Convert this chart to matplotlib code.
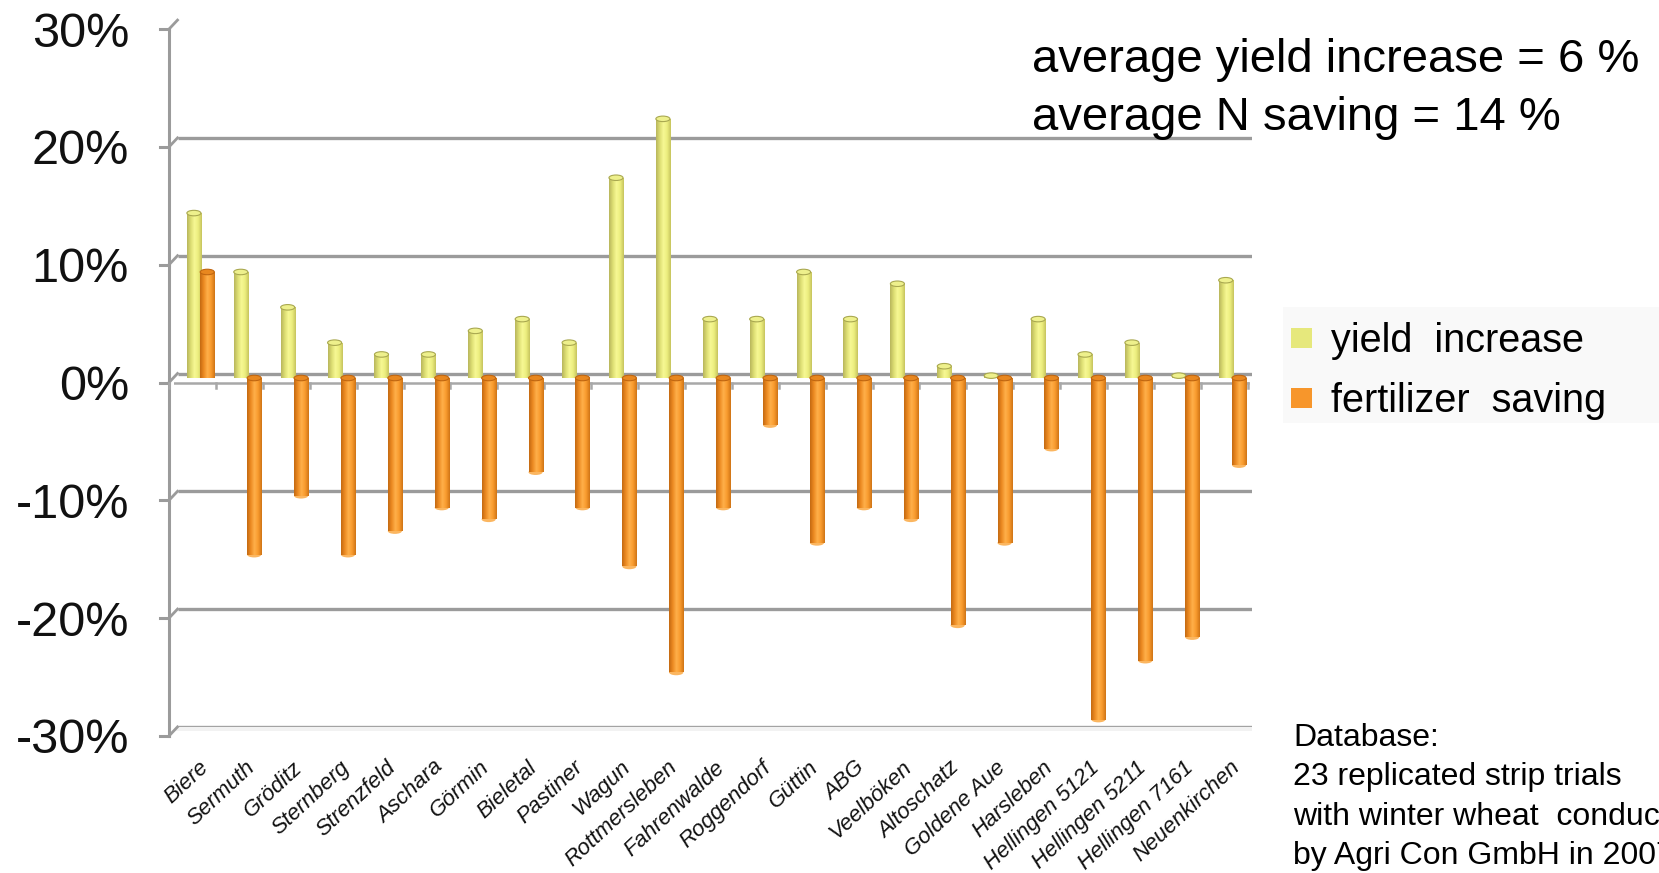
import numpy as np
import matplotlib
matplotlib.use("Agg")
import matplotlib.pyplot as plt
from matplotlib.transforms import ScaledTranslation
from matplotlib.patches import Ellipse, Rectangle, Polygon
from matplotlib.colors import LinearSegmentedColormap

plt.rcParams["font.family"] = ["Liberation Sans", "DejaVu Sans"]

# ---- data -------------------------------------------------------------
sites = ["Biere", "Sermuth", "Gröditz", "Sternberg", "Strenzfeld", "Aschara",
         "Görmin", "Bieletal", "Pastiner", "Wagun", "Rottmersleben",
         "Fahrenwalde", "Roggendorf", "Güttin", "ABG", "Veelböken",
         "Altoschatz", "Goldene Aue", "Harsleben", "Hellingen 5121",
         "Hellingen 5211", "Hellingen 7161", "Neuenkirchen"]
yield_increase = [14, 9, 6, 3, 2, 2, 4, 5, 3, 17, 22, 5, 5, 9, 5, 8, 1, 0.2,
                  5, 2, 3, 0.2, 8.3]
fertilizer_saving = [9, -15, -10, -15, -13, -11, -12, -8, -11, -16, -25, -11,
                     -4, -14, -11, -12, -21, -14, -6, -29, -24, -22, -7.4]
y_ticks = [-30, -20, -10, 0, 10, 20, 30]
series_names = ["yield  increase", "fertilizer  saving"]
summary_lines = ["average yield increase = 6 %", "average N saving = 14 %"]
note_lines = ["Database:", "23 replicated strip trials",
              "with winter wheat  conducted", "by Agri Con GmbH in 2007"]

# ---- figure / axes ----------------------------------------------------
W, H = 1659, 873
fig = plt.figure(figsize=(W / 100, H / 100), dpi=100)
fig.patch.set_facecolor("white")

ax_left, ax_bottom_px, ax_w, ax_h = 173.5, 731.4, 1078.7, 706.8
ax = fig.add_axes([ax_left / W, (H - ax_bottom_px) / H, ax_w / W, ax_h / H])
n = len(sites)
ax.set_xlim(-0.5, n - 0.5)
ax.set_ylim(-30, 30)
ax.axis("off")

sx = ax_w / n        # pixels per category
sy = ax_h / 60.0     # pixels per percent


def shifted(dx, dy):
    """transData moved by (dx, dy) pixels; dy > 0 moves downwards."""
    return ax.transData + ScaledTranslation(dx / 100, -dy / 100, fig.dpi_scale_trans)


back = shifted(4.0, -4.5)
front = shifted(-4.5, 4.5)
grid_c = "#9b9b9b"

# back-wall gridlines
x_end_back = n - 0.5 + 0.1
for t in y_ticks:
    ax.plot([-0.5, x_end_back], [t, t], transform=back, color=grid_c,
            lw=2.4, solid_capstyle="butt", zorder=1)

# floor slab at the bottom
floor = Polygon([(-0.5 - 4.5 / sx, -30 - 4.5 / sy),
                 (n - 0.5 - 4.5 / sx, -30 - 4.5 / sy),
                 (x_end_back + 4.0 / sx, -30 + 4.5 / sy),
                 (-0.5 + 4.0 / sx, -30 + 4.5 / sy)],
                closed=True, facecolor="#f2f2f2", edgecolor="none", zorder=1)
ax.add_patch(floor)
ax.plot([-0.5, n - 0.5], [-30, -30], transform=front, color="#b5b5b5",
        lw=2.2, zorder=1)
ax.plot([n - 0.5 - 4.5 / sx, x_end_back + 4.0 / sx],
        [-30 - 4.5 / sy, -30 + 4.5 / sy], color="#b5b5b5", lw=2.2, zorder=1)

# front value axis with ticks and the slanted wall connectors
ax.plot([-0.5, -0.5], [-30, 30], transform=front, color=grid_c, lw=2.2,
        zorder=2, clip_on=False)
for t in y_ticks:
    ax.plot([-0.5 - 9 / sx, -0.5], [t, t], transform=front, color=grid_c,
            lw=2.2, zorder=2, clip_on=False)
    ax.plot([-0.5 - 4.5 / sx, -0.5 + 4.0 / sx], [t - 4.5 / sy, t + 4.5 / sy],
            color=grid_c, lw=2.0, zorder=2, clip_on=False)
    ax.text(-0.5, t, f"{t}%",
            transform=front + ScaledTranslation(-0.40, -0.175, fig.dpi_scale_trans),
            ha="right", va="baseline", fontsize=35, color="#111111")

# front category axis at 0 %
ax.plot([-0.5, n - 0.5], [0, 0], transform=front, color="#a8a8a8", lw=1.8, zorder=2)
for k in range(n + 1):
    ax.plot([k - 0.5, k - 0.5], [0, -5 / sy], transform=front, color="#a8a8a8",
            lw=1.8, zorder=2, clip_on=False)

# ---- cylinder-like columns -------------------------------------------
yellow_cmap = LinearSegmentedColormap.from_list(
    "yel", ["#b8b65c", "#dcdd72", "#f7f894", "#ecee7e", "#c6c45e"])
orange_cmap = LinearSegmentedColormap.from_list(
    "org", ["#c46a12", "#ec8a22", "#ffb04a", "#f89a2d", "#cf7416"])
grad = np.linspace(0, 1, 64).reshape(1, -1)

x = np.arange(n)
bw = 0.30
bars_y = ax.bar(x - 0.065, yield_increase, width=bw, color="#ecee7c",
                edgecolor="none", zorder=3)
bars_o = ax.bar(x + 0.22, fertilizer_saving, width=bw, color="#f89a2c",
                edgecolor="none", zorder=3)

cap_h = 5.5 / sy
for bars, cmap, cap_c, cap_e, end_c in [
        (bars_y, yellow_cmap, "#eef08c", "#a9a850", "#f3f5a0"),
        (bars_o, orange_cmap, "#e8871f", "#c06610", "#fbb660")]:
    for p in bars:
        x0, w = p.get_x(), p.get_width()
        y0, h = p.get_y(), p.get_height()
        y_lo, y_hi = min(y0, y0 + h), max(y0, y0 + h)
        im = ax.imshow(grad, cmap=cmap, extent=[x0, x0 + w, y_lo, y_hi],
                       aspect="auto", zorder=3.1, interpolation="bilinear")
        im.set_clip_path(p)
        cx = x0 + w / 2
        if y_hi > 0.05:
            ax.add_patch(Ellipse((cx, y_hi), w, cap_h, facecolor=cap_c,
                                 edgecolor=cap_e, lw=0.8, zorder=3.3))
        if y_lo < -0.05:
            ax.add_patch(Ellipse((cx, 0), w, cap_h, facecolor=cap_c,
                                 edgecolor=cap_e, lw=0.8, zorder=3.3))
            ax.add_patch(Ellipse((cx, y_lo), w, cap_h, facecolor=end_c,
                                 edgecolor="none", zorder=3.05))

ax.set_xlim(-0.5, n - 0.5)
ax.set_ylim(-30, 30)

# category labels
label_y = -30 - (757 - ax_bottom_px) / sy
for i, name in enumerate(sites):
    ax.text(i + 0.03, label_y, name, rotation=43, rotation_mode="anchor",
            ha="right", va="top", fontsize=16, fontstyle="italic",
            color="#111111", clip_on=False)

# ---- annotations ------------------------------------------------------
def fx(px):
    return px / W


def fy(py):
    return 1 - py / H


fig.text(fx(1032), fy(72), summary_lines[0], fontsize=34, ha="left",
         va="baseline", color="black")
fig.text(fx(1032), fy(130), summary_lines[1], fontsize=34, ha="left",
         va="baseline", color="black")

# legend
fig.patches.append(Rectangle((fx(1283), fy(423)), fx(1659) - fx(1283),
                             fy(307) - fy(423), transform=fig.transFigure,
                             facecolor="#f9f9f9", edgecolor="none", zorder=0))
for k, (name, col) in enumerate(zip(series_names, ["#e6e87c", "#f7962b"])):
    yc = 338 + k * 60
    fig.patches.append(Rectangle((fx(1291), fy(yc + 10)), fx(1312) - fx(1291),
                                 fy(yc - 10) - fy(yc + 10),
                                 transform=fig.transFigure, facecolor=col,
                                 edgecolor="none", zorder=1))
    fig.text(fx(1331), fy(yc + 14), name, fontsize=28.5, ha="left",
             va="baseline", color="black")

for k, line in enumerate(note_lines):
    fig.text(fx(1293), fy(746 + k * 39.3), line, fontsize=23, ha="left",
             va="baseline", color="black")

fig.savefig("out.png", dpi=100, facecolor="white")
